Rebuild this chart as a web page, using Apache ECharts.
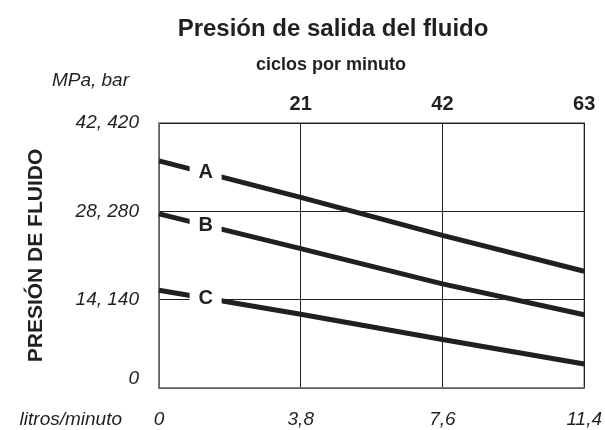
<!DOCTYPE html>
<html><head><meta charset="utf-8">
<script src="https://cdn.jsdelivr.net/npm/echarts@6/dist/echarts.min.js"></script>
<style>html,body{margin:0;padding:0;background:#fff}#c{width:605px;height:430px}</style>
</head><body><div id="c"></div>
<script>
// flow (litros/minuto) values
const flow = [0, 3.8, 7.6, 11.4];
const xTicks = [0, 3.8, 7.6, 11.4];
const cycleTicks = [0, 21, 42, 63];
const yTickLabels = ['0', '14, 140', '28, 280', '42, 420'];
const seriesNames = ['A', 'B', 'C'];
const pressA = [36.0, 30.2, 24.2, 18.5];
const pressB = [27.6, 22.1, 16.5, 11.6];
const pressC = [15.5, 11.7, 7.7, 3.8];
const allSeries = [pressA, pressB, pressC];

const FONT = 'Liberation Sans, Arial, Helvetica, sans-serif';
const labelAt = 1.25;
function interp(xs, ys, x) {
  for (let i = 0; i < xs.length - 1; i++) {
    if (x >= xs[i] && x <= xs[i + 1]) {
      const t = (x - xs[i]) / (xs[i + 1] - xs[i]);
      return ys[i] + t * (ys[i + 1] - ys[i]);
    }
  }
  return ys[ys.length - 1];
}

const chart = echarts.init(document.getElementById('c'));
chart.setOption({
  animation: false,
  backgroundColor: '#fff',
  title: [
    { text: 'Presión de salida del fluido', left: 328, top: 12, textAlign: 'center',
      textStyle: { fontFamily: FONT, fontWeight: 'bold', fontSize: 24, color: '#231f20' } },
    { text: 'ciclos por minuto', left: 326, top: 51, textAlign: 'center',
      textStyle: { fontFamily: FONT, fontWeight: 'bold', fontSize: 18, color: '#231f20' } }
  ],
  grid: { left: 159, right: 20, top: 123, bottom: 42, show: true, borderColor: '#777', borderWidth: 1.5 },
  xAxis: [
    { type: 'value', min: 0, max: 11.4, interval: 3.8, position: 'bottom',
      name: 'litros/minuto', nameLocation: 'start', nameGap: 37,
      nameTextStyle: { fontFamily: FONT, fontStyle: 'italic', fontSize: 19, color: '#231f20', align: 'right', verticalAlign: 'top', padding: [22, 0, 0, 0] },
      axisLine: { show: true, lineStyle: { color: '#777', width: 1.5 } },
      axisTick: { show: false },
      axisLabel: { margin: 22, fontFamily: FONT, fontStyle: 'italic', fontSize: 19, color: '#231f20',
        formatter: v => { const m = xTicks.find(t => Math.abs(t - v) < 1e-6); return (m === 0 ? '0' : m.toFixed(1).replace('.', ',')); } },
      splitLine: { show: true, lineStyle: { color: '#231f20', width: 1 } } },
    { type: 'value', min: 0, max: 63, interval: 21, position: 'top',
      axisLine: { show: false }, axisTick: { show: false }, splitLine: { show: false },
      axisLabel: { margin: 9, fontFamily: FONT, fontWeight: 'bold', fontSize: 20, color: '#231f20',
        formatter: v => (v === cycleTicks[0] ? '' : String(v)) } }
  ],
  yAxis: [
    { type: 'value', min: 0, max: 42, interval: 14,
      name: 'MPa, bar', nameLocation: 'end', nameGap: 42,
      nameTextStyle: { fontFamily: FONT, fontStyle: 'italic', fontSize: 19, color: '#231f20', align: 'right', verticalAlign: 'middle', padding: [0, 30, 0, 0] },
      axisLine: { show: true, lineStyle: { color: '#777', width: 1.5 } },
      axisTick: { show: false },
      axisLabel: { margin: 20, fontFamily: FONT, fontStyle: 'italic', fontSize: 19, color: '#231f20',
        formatter: v => { const i = Math.round(v / 14); return i === 0 ? '{z|' + yTickLabels[0] + '}' : yTickLabels[i]; },
        rich: { z: { fontFamily: FONT, fontStyle: 'italic', fontSize: 19, color: '#231f20', padding: [0, 0, 18, 0] } } },
      splitLine: { show: true, lineStyle: { color: '#231f20', width: 1 } } },
    { type: 'value', min: 0, max: 42, position: 'left', offset: 0,
      name: 'PRESIÓN DE FLUIDO', nameLocation: 'middle', nameGap: 112,
      nameTextStyle: { fontFamily: FONT, fontWeight: 'bold', fontSize: 21, color: '#231f20' },
      axisLine: { show: false }, axisTick: { show: false }, axisLabel: { show: false }, splitLine: { show: false } }
  ],
  series: allSeries.map((vals, i) => ({
    name: seriesNames[i], type: 'line', xAxisIndex: 0, yAxisIndex: 0,
    data: flow.map((x, j) => [x, vals[j]]),
    symbol: 'none', lineStyle: { color: '#231f20', width: 5 },
    markPoint: {
      symbol: 'rect', symbolSize: [32, 24], silent: true,
      itemStyle: { color: '#fff' },
      label: { show: true, position: 'inside', formatter: seriesNames[i], fontFamily: FONT, fontWeight: 'bold', fontSize: 20, color: '#231f20' },
      data: [{ coord: [labelAt, interp(flow, vals, labelAt)] }]
    }
  }))
});
</script></body></html>
